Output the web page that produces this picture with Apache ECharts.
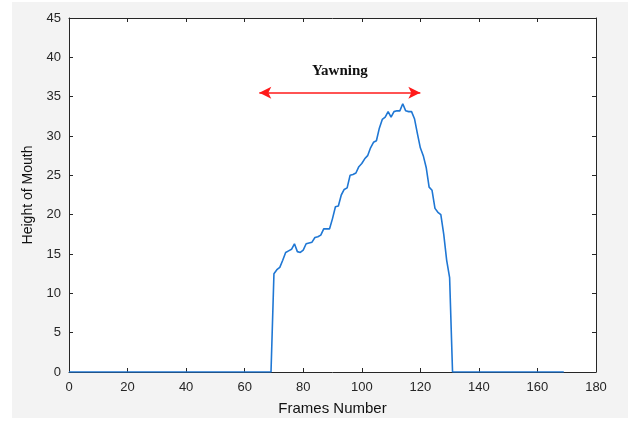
<!DOCTYPE html>
<html>
<head>
<meta charset="utf-8">
<script src="https://cdn.jsdelivr.net/npm/echarts@6/dist/echarts.min.js"></script>
<style>
  html, body { margin: 0; padding: 0; background: #fff; }
  #chart { width: 628px; height: 421px; }
</style>
</head>
<body>
<div id="chart"></div>
<script>
// 帧号 0..169，前 70 帧和 131 帧之后嘴巴高度为 0
var frames = [];
for (var f = 0; f <= 169; f++) frames.push(f);

// 哈欠段 (70..130) 的嘴巴高度，读图估计
var yawnStart = 70;
var yawnHeights = [
  12.5, 13, 13.3, 14.2, 15.2, 15.4, 15.6, 16.3, 15.3, 15.2,
  15.5, 16.3, 16.4, 16.5, 17.1, 17.2, 17.4, 18.2, 18.2, 18.2,
  19.5, 21, 21.1, 22.5, 23.2, 23.4, 25, 25.1, 25.3, 26.1,
  26.5, 27.1, 27.5, 28.5, 29.2, 29.4, 31, 32.1, 32.4, 33.1,
  32.4, 33.1, 33.2, 33.2, 34.1, 33.2, 33.1, 33.1, 32.2, 30.3,
  28.5, 27.5, 26, 23.5, 23.1, 20.8, 20.3, 20, 17.5, 14.2,
  12
];

// 坐标轴刻度
var xTicks = [0, 20, 40, 60, 80, 100, 120, 140, 160, 180];
var yTicks = [0, 5, 10, 15, 20, 25, 30, 35, 40, 45];

// 箭头标注 (Yawning)
var arrowFrom = [65, 35.5];
var arrowTo = [120, 35.5];
var arrowText = 'Yawning';

var heights = frames.map(function (f) {
  var i = f - yawnStart;
  return (i >= 0 && i < yawnHeights.length) ? yawnHeights[i] : 0;
});
var lineData = frames.map(function (f, i) { return [f, heights[i]]; });

var boxColor = '#262626';
var labelFont = { color: '#262626', fontSize: 13, fontFamily: 'Liberation Sans' };

function frameAxis(pos, showLabel) {
  return {
    type: 'value',
    position: pos,
    min: xTicks[0],
    max: xTicks[xTicks.length - 1],
    interval: 20,
    axisLine: { show: true, onZero: false, lineStyle: { color: boxColor, width: 1 } },
    axisTick: { show: true, inside: true, length: 4, lineStyle: { color: boxColor } },
    axisLabel: Object.assign({ show: showLabel, margin: 9 }, labelFont),
    splitLine: { show: false }
  };
}
function heightAxis(pos, showLabel) {
  return {
    type: 'value',
    position: pos,
    min: yTicks[0],
    max: yTicks[yTicks.length - 1],
    interval: 5,
    axisLine: { show: true, onZero: false, lineStyle: { color: boxColor, width: 1 } },
    axisTick: { show: true, inside: true, length: 4, lineStyle: { color: boxColor } },
    axisLabel: Object.assign({ show: showLabel, margin: 8 }, labelFont),
    splitLine: { show: false }
  };
}

var chart = echarts.init(document.getElementById('chart'));

var xBottom = frameAxis('bottom', true);
xBottom.name = 'Frames Number';
xBottom.nameLocation = 'middle';
xBottom.nameGap = 29;
xBottom.nameTextStyle = { color: '#111', fontSize: 15, fontFamily: 'Liberation Sans' };

var yLeft = heightAxis('left', true);
yLeft.name = 'Height of Mouth';
yLeft.nameLocation = 'middle';
yLeft.nameGap = 28;
yLeft.nameTextStyle = { color: '#111', fontSize: 14, fontFamily: 'Liberation Sans' };

chart.setOption({
  animation: false,
  backgroundColor: '#ffffff',
  graphic: [{
    type: 'rect',
    z: -10,
    shape: { x: 12, y: 2, width: 616, height: 416 },
    style: { fill: '#f3f3f3' }
  }],
  grid: {
    left: 69, top: 18, right: 32, bottom: 49,
    show: true, backgroundColor: '#ffffff', borderWidth: 0
  },
  xAxis: [xBottom, frameAxis('top', false)],
  yAxis: [yLeft, heightAxis('right', false)],
  series: [{
    type: 'line',
    data: lineData,
    showSymbol: false,
    symbol: 'none',
    lineStyle: { color: '#1f77d4', width: 1.6 },
    markLine: {
      silent: true,
      symbol: ['arrow', 'arrow'],
      symbolSize: [9, 12],
      lineStyle: { color: '#ff1a1a', width: 1.5, type: 'solid' },
      label: {
        show: true,
        position: 'middle',
        distance: 14,
        formatter: arrowText,
        color: '#111',
        fontSize: 15,
        fontWeight: 'bold',
        fontFamily: 'Liberation Serif'
      },
      data: [[{ coord: arrowFrom }, { coord: arrowTo }]]
    }
  }]
});
</script>
</body>
</html>
